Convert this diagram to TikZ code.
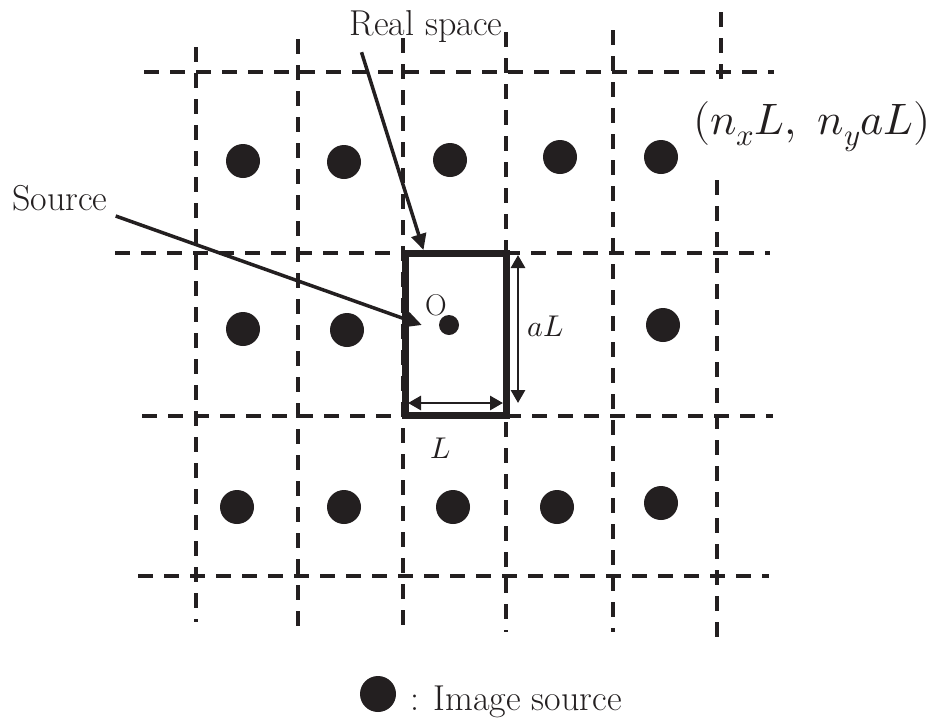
\documentclass[tikz,border=0pt]{standalone}
\usepackage{fontspec}
\usepackage{unicode-math}
\usepackage{xcolor}
\usetikzlibrary{positioning,arrows.meta}
\definecolor{ink}{HTML}{231F20}

\begin{document}
\begin{tikzpicture}[x=1pt, y=-1pt,
        grid/.style={line width=3.2pt, dash pattern=on 15pt off 11pt, ink},
        cell/.style={rectangle, draw=ink, line width=7pt, inner sep=0pt, minimum width=101.5pt, minimum height=162pt},
        dot/.style={circle, fill=ink, inner sep=0pt, minimum size=34pt},
        srcdot/.style={circle, fill=ink, inner sep=0pt, minimum size=20pt},
        arrow/.style={-{Triangle[length=16pt, width=15pt]}, line width=3.5pt, ink},
        dim/.style={{Triangle[length=13pt, width=14pt]}-{Triangle[length=13pt, width=14pt]}, line width=2.8pt, ink},
        label/.style={font=\fontsize{36}{42}\selectfont, inner sep=0pt, text=ink},
        sym/.style={font=\fontsize{30}{34}\selectfont, inner sep=0pt, text=ink}
    ]
    \useasboundingbox (0,0) rectangle (936,718);

    % Dashed grid
    \foreach \x/\a/\b in {196/47/622, 298/39/630, 403/38/628, 506/32/632, 613/30/632, 721/12/82, 717/180/637} {
        \draw[grid] (\x,\a) -- (\x,\b);
    }
    \foreach \y/\a/\b in {72/144/774, 253/115/770, 416/142/773, 576/138/769} {
        \draw[grid] (\a,\y) -- (\b,\y);
    }

    % Real space cell
    \node[cell] (real) at (455.75,334.5) {};

    % Image sources
    \foreach \x/\y [count=\i] in {243/161, 344/162, 450/160, 560/157, 661/157} {
        \node[dot] (top\i) at (\x,\y) {};
    }
    \foreach \x/\y [count=\i] in {243/329, 347/330, 663/325} {
        \node[dot] (mid\i) at (\x,\y) {};
    }
    \foreach \x/\y [count=\i] in {237/507, 344/507, 453/507, 557/507, 661/503} {
        \node[dot] (bot\i) at (\x,\y) {};
    }

    % Source
    \node[srcdot] (src) at (449,325) {};
    \node[sym] (lblO) at (436,305) {O};

    % Labels
    \node[label, anchor=base] (lblreal) at (426,35) {Real space};
    \node[label, anchor=base west] (lblsource) at (12,210) {Source};
    \node[font=\fontsize{44}{50}\selectfont, inner sep=0pt, text=ink] (lblpos) at (812,127) {$(n_x L,\ n_y aL)$};

    % Arrows
    \draw[arrow] ([xshift=12pt, yshift=-10pt]lblreal.south west) -- ([xshift=22pt]real.north west);
    \draw[arrow] ([xshift=8pt, yshift=-6pt]lblsource.base east) -- ([xshift=-17pt]src.west);

    % Dimensions
    \coordinate (aLtop) at (518,255);
    \coordinate (aLbot) at (518,403);
    \coordinate (Lleft) at (408,403);
    \coordinate (Lright) at (503,403);
    \draw[dim] (aLtop) -- (aLbot);
    \draw[dim] (Lleft) -- (Lright);
    \node[sym] (lblaL) at (546,326) {$aL$};
    \node[sym] (lblL) at (441,448) {$L$};

    % Legend
    \node[dot, minimum height=36pt] (key) at (378,694) {};
    \node[label, anchor=base west] (lblkey) at (410,710) {: Image source};
\end{tikzpicture}
\end{document}
